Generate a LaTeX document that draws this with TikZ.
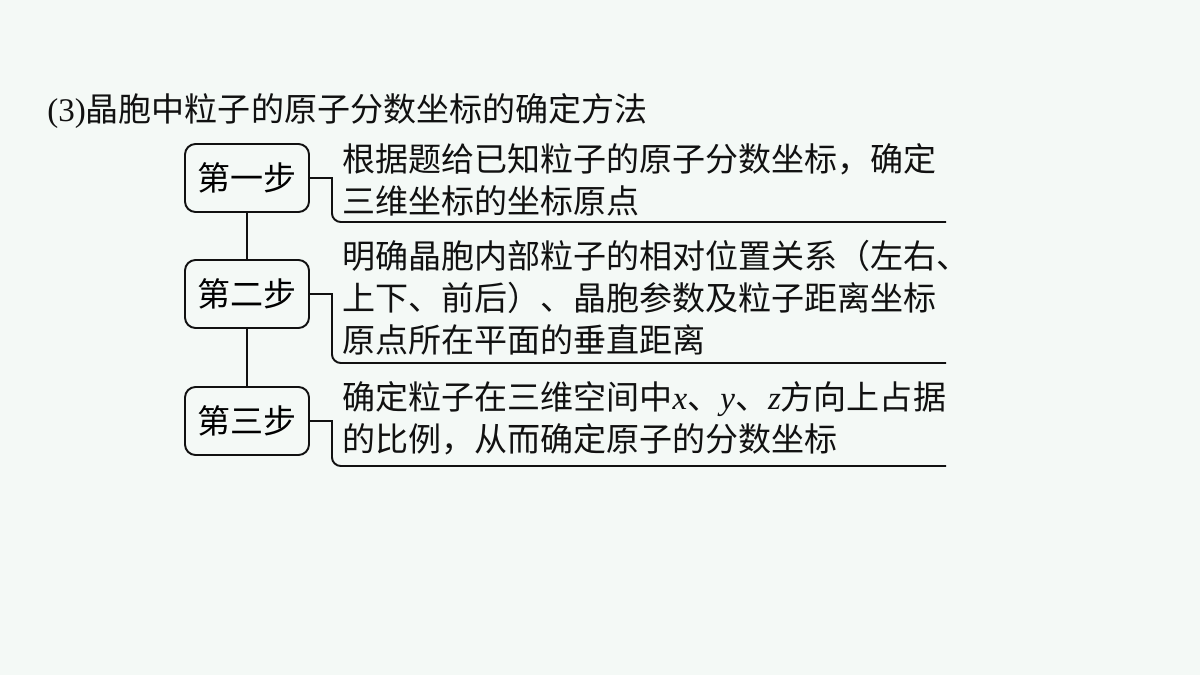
\documentclass[tikz,border=0pt]{standalone}
\usepackage{fontspec}
\setmainfont{Noto Sans CJK SC}
\newfontfamily\lat{Liberation Serif}
\usepackage{tikz}
\usepackage{xcolor}
\usetikzlibrary{positioning,calc}
\definecolor{paper}{HTML}{F4F9F6}
\definecolor{ink}{HTML}{111111}
\tikzset{
  stepbox/.style={draw=ink, rounded corners=6pt, line width=1.1pt, minimum width=124*0.02cm,
                  minimum height=68*0.02cm, inner sep=0pt, font=\fontsize{18.8pt}{23.9pt}\selectfont},
  desc/.style={anchor=north west, align=left, inner sep=0pt, text=ink,
               font=\fontsize{18.8pt}{23.9pt}\selectfont},
  link/.style={draw=ink, line width=1.1pt}
}

\begin{document}
\begin{tikzpicture}[x=0.02cm,y=-0.02cm]
      % page
      \fill[paper] (0,0) rectangle (1200,675);
      \useasboundingbox (0,0) rectangle (1200,675);

      % title
      \node[desc, anchor=west] (title) at (47,111) {{\lat (3)}晶胞中粒子的原子分数坐标的确定方法};

      % steps
      \node[stepbox] (s1) at (247,178) {第一步};
      \node[stepbox] (s2) at (247,294) {第二步};
      \node[stepbox] (s3) at (247,421) {第三步};
      \draw[link] (s1) -- (s2);
      \draw[link] (s2) -- (s3);

      % descriptions
      \node[desc] (t1) at (342,143) {根据题给已知粒子的原子分数坐标，确定\\三维坐标的坐标原点};
      \node[desc] (t2) at (342,240) {明确晶胞内部粒子的相对位置关系（左右、\\上下、前后）、晶胞参数及粒子距离坐标\\原点所在平面的垂直距离};
      \node[desc] (t3) at (342,381) {确定粒子在三维空间中{\lat\itshape x}、{\lat\itshape y}、{\lat\itshape z}方向上占据\\的比例，从而确定原子的分数坐标};

      % brackets under the descriptions
      \coordinate (u1) at (946,222);
      \coordinate (u2) at (946,363);
      \coordinate (u3) at (946,466);
      \foreach \i in {1,2,3} {
        \draw[link] (s\i.east) -- ++(22,0) [rounded corners=5pt] |- (u\i);
      }
\end{tikzpicture}
\end{document}
